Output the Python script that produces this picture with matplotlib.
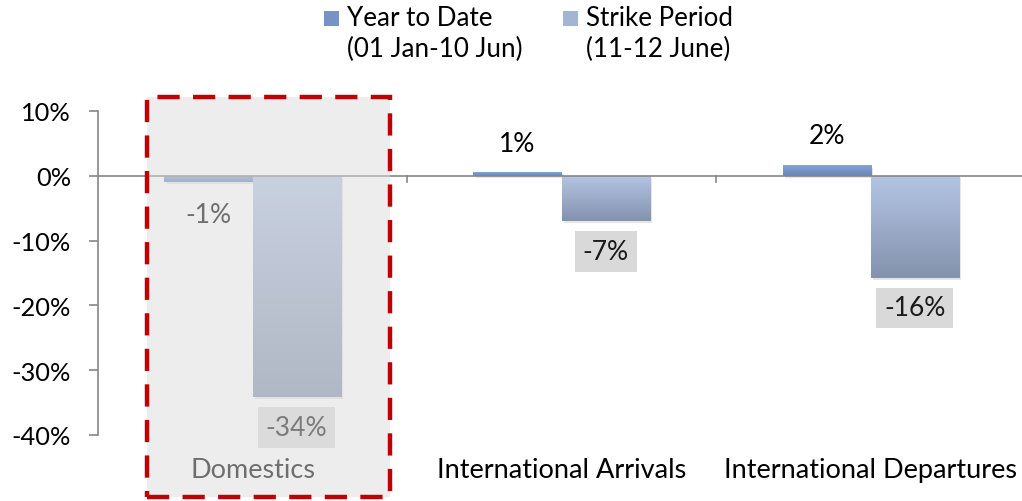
import matplotlib
matplotlib.use("Agg")
import matplotlib.pyplot as plt
import matplotlib.patches as mpatches
import numpy as np
from matplotlib.colors import LinearSegmentedColormap

plt.rcParams['font.family'] = ['Lato', 'DejaVu Sans']

categories = ["Domestics", "International Arrivals", "International Departures"]
series_names = ["Year to Date\n(01 Jan-10 Jun)", "Strike Period\n(11-12 June)"]
ytd = [-0.9, 0.6, 1.6]
strike = [-34.1, -7.0, -15.7]
ytd_labels = ["-1%", "1%", "2%"]
strike_labels = ["-34%", "-7%", "-16%"]
yticks = [10, 0, -10, -20, -30, -40]

W, H = 1022, 502
fig = plt.figure(figsize=(W / 100, H / 100), dpi=100)
ax = fig.add_axes([98 / W, (H - 436) / H, (W - 98) / W, (436 - 112) / H])

x = np.arange(len(categories))
bw = 0.285

ytd_cmap = LinearSegmentedColormap.from_list("ytd", ["#86a3d4", "#6784b7"])
str_cmap = LinearSegmentedColormap.from_list("str", ["#b4c5e4", "#8392ad"])
grad = np.linspace(0, 1, 256).reshape(-1, 1)


def gradient_bars(xs, vals, cmap):
    bars = ax.bar(xs, vals, width=bw, color="none", edgecolor="none", zorder=3)
    for b in bars:
        x0, y0 = b.get_x(), b.get_y()
        w, h = b.get_width(), b.get_height()
        top, bot = max(y0, y0 + h), min(y0, y0 + h)
        sh = mpatches.Rectangle((x0 + 0.008, bot - 0.35), w, top - bot,
                                facecolor="#000000", alpha=0.10, edgecolor="none", zorder=2)
        ax.add_patch(sh)
        im = ax.imshow(grad, extent=[x0, x0 + w, bot, top], origin="upper",
                       aspect="auto", cmap=cmap, zorder=3)
        im.set_clip_path(b)
    return bars


gradient_bars(x - bw / 2, ytd, ytd_cmap)
gradient_bars(x + bw / 2, strike, str_cmap)

ax.set_xlim(-0.5, 2.49)
ax.set_ylim(-40, 10)

for s in ["top", "right", "bottom"]:
    ax.spines[s].set_visible(False)
ax.spines["left"].set_color("#868686")
ax.spines["left"].set_linewidth(1.2)
ax.axhline(0, color="#868686", lw=1.2, zorder=4)
for xb in [0.5, 1.5]:
    ax.plot([xb, xb], [0, -0.9], color="#868686", lw=1.2, zorder=4)
ax.set_xticks([])
ax.set_yticks(yticks)
ax.set_yticklabels([f"{v}%" for v in yticks], fontsize=18.3, color="#000000")
ax.tick_params(axis="y", length=6.5, color="#868686", width=1.2, pad=13)

for i, c in enumerate(categories):
    ax.text(x[i], -45.3, c, ha="center", va="center", fontsize=19.5,
            color="#000000", clip_on=False)

ytd_label_y = [-5.9, 5.0, 6.2]
for i, lab in enumerate(ytd_labels):
    ax.text(x[i] - bw / 2, ytd_label_y[i], lab,
            ha="center", va="center", fontsize=19, color="#000000", zorder=5)
for i, lab in enumerate(strike_labels):
    ax.text(x[i] + bw / 2, strike[i] - 4.7, lab, ha="center", va="center",
            fontsize=19, color="#1a1a1a", zorder=5,
            bbox=dict(boxstyle="square,pad=0.3", facecolor="#d9d9d9", edgecolor="none"))

overlay = mpatches.Rectangle((147 / W, (H - 498) / H), 243 / W, 400 / H,
                             transform=fig.transFigure, facecolor="#dddddd",
                             alpha=0.5, edgecolor="none", zorder=10)
fig.patches.append(overlay)
border = mpatches.Rectangle((147 / W, (H - 498) / H), 243 / W, 400 / H,
                            transform=fig.transFigure, facecolor="none",
                            edgecolor="#c00000", lw=3.2, linestyle=(0, (5, 3)), zorder=11)
fig.patches.append(border)

leg_colors = ["#7693c6", "#a4b4d4"]
leg_x = [324, 563]
txt_x = [347, 586]
for i in range(2):
    sq = mpatches.Rectangle((leg_x[i] / W, (H - 27) / H), 15 / W, 15 / H,
                            transform=fig.transFigure, facecolor=leg_colors[i],
                            edgecolor="none")
    fig.patches.append(sq)
    fig.text(txt_x[i] / W, (H - 6) / H, series_names[i], ha="left", va="top",
             fontsize=18.7, color="#000000", linespacing=1.3)

fig.savefig("out.png", dpi=100)
